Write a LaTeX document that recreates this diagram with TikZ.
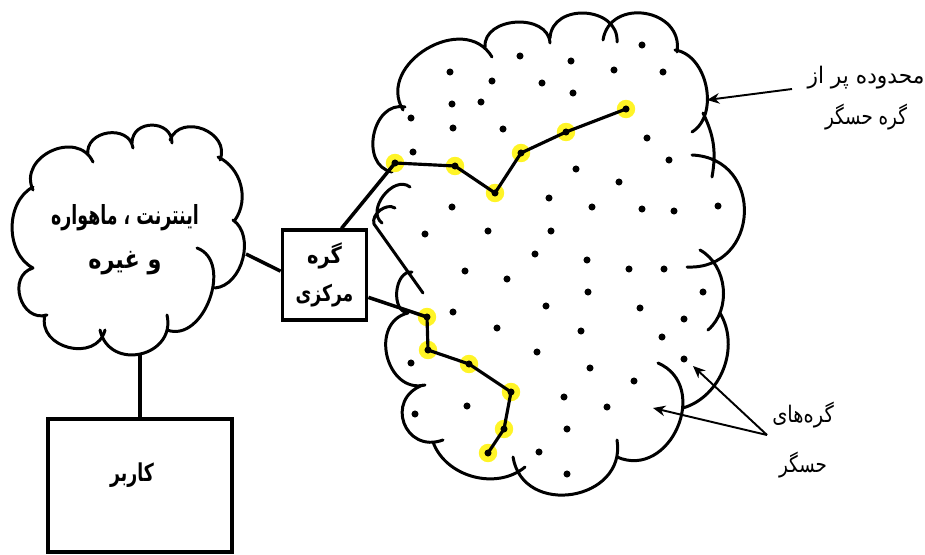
\documentclass[tikz,border=0pt]{standalone}
\usepackage{graphicx}
\usepackage{fontspec}
\newfontfamily\fa[Script=Arabic]{DejaVu Sans}
\TeXXeTstate=1
\usetikzlibrary{arrows.meta}

% one right-to-left line, a little narrowed
\newcommand{\rtlline}[2][0.75]{\scalebox{#1}[1]{\beginR #2\endR}}

\tikzset{
  rim/.style={line width=1.7pt, line cap=round},
  bump/.style={bend left=90, looseness=#1},
  box/.style={draw, rectangle, line width=2pt, inner sep=0pt},
  sensor/.style={circle, fill=yellow!85!white, inner sep=0pt, minimum size=10.5pt,
    path picture={\fill[black] (path picture bounding box.center) circle (2pt);}},
  hop/.style={line width=1.8pt},
  pointer/.style={line width=1.1pt, -{Stealth[length=7pt,width=6pt]}},
  fabold/.style={font=\fa\bfseries\fontsize{14}{25}\selectfont, align=center},
  faplain/.style={font=\fa\fontsize{13}{23}\selectfont, align=center},
}

\begin{document}
\begin{tikzpicture}[x=0.02cm, y=-0.02cm]
  \useasboundingbox (0,0) rectangle (925,554);

  % left cloud
  \draw[rim]
    (33,268) to[bend left=62] (33,187)
    (33,190) to[bump=1.42] (93,162)
    (88,155) to[bump=1.4] (133,148)
    (132,143) to[bump=1.53] (172,143)
    (170,140) to[bump=1.42] (220,160)
    (218,157) to[bend left=50] (235,220)
    (233,220) to[bend left=70] (215,288)
    (197,248) to[bump=1.15] (167,330)
    (167,315) to[bump=1.6] (100,330)
    (105,330) to[bump=1.42] (45,315)
    (47,315) to[bump=1.44] (33,268);

  % sensor field
  \draw[rim]
    (392,172) to[bump=1.3] (405,107)
    (403,110) to[bump=1.33] (492,57)
    (485,47) to[bump=1.2] (550,43)
    (550,38) to[bump=1.37] (617,42)
    (603,40) to[bump=1.5] (677,52)
    (675,50) to[bend left=70] (692,132)
    (703,113) to[bend left=18] (712,177)
    (692,155) to[bump=1.67] (687,267)
    (700,250) to[bend left=55] (708,330)
    (720,313) to[bend left=52] (683,408)
    (658,363) to[bump=1.45] (617,457)
    (617,440) to[bump=1.5] (513,457)
    (525,467) to[bend left=55] (433,442)
    (443,440) to[bump=1.8] (423,385)
    (425,385) to[bump=1.4] (408,313)
    (408,313) to[bump=1.1] (412,272)
    (423,293) -- (374,224) to[bend left=70] (395,208)
    (382,223) to[bump=1.17] (410,187);

  % idle sensors
  \fill
    (642,45) circle (2pt) (520,56) circle (2pt) (571,61) circle (2pt)
    (450,72) circle (2pt) (614,70) circle (2pt) (663,72) circle (2pt)
    (492,81) circle (2pt) (542,83) circle (2pt) (573,93) circle (2pt)
    (452,104) circle (2pt) (481,102) circle (2pt) (411,118) circle (2pt)
    (453,128) circle (2pt) (503,129) circle (2pt) (647,138) circle (2pt)
    (413,152) circle (2pt) (669,160) circle (2pt) (576,169) circle (2pt)
    (619,182) circle (2pt) (549,198) circle (2pt) (452,207) circle (2pt)
    (592,207) circle (2pt) (642,209) circle (2pt) (674,211) circle (2pt)
    (718,206) circle (2pt) (425,234) circle (2pt) (488,231) circle (2pt)
    (551,231) circle (2pt) (535,254) circle (2pt) (587,260) circle (2pt)
    (465,271) circle (2pt) (507,279) circle (2pt) (629,269) circle (2pt)
    (664,269) circle (2pt) (703,292) circle (2pt) (588,292) circle (2pt)
    (546,306) circle (2pt) (640,308) circle (2pt) (453,312) circle (2pt)
    (684,319) circle (2pt) (497,328) circle (2pt) (581,331) circle (2pt)
    (662,337) circle (2pt) (537,352) circle (2pt) (411,363) circle (2pt)
    (590,368) circle (2pt) (684,359) circle (2pt) (634,381) circle (2pt)
    (564,397) circle (2pt) (467,406) circle (2pt) (607,407) circle (2pt)
    (415,414) circle (2pt) (567,429) circle (2pt) (539,452) circle (2pt)
    (567,474) circle (2pt);

  % routes
  \draw
    (395,163) node[sensor] (a1){}
    (455,166) node[sensor] (a2){}
    (495,193) node[sensor] (a3){}
    (521,153) node[sensor] (a4){}
    (566,132) node[sensor] (a5){}
    (626,109) node[sensor] (a6){}
    (427,317) node[sensor] (b1){}
    (428,350) node[sensor] (b2){}
    (469,364) node[sensor] (b3){}
    (511,392) node[sensor] (b4){}
    (504,429) node[sensor] (b5){}
    (488,453) node[sensor] (b6){};
  \begin{scope}[hop]
    \draw (a1.center) to (a2.center);
    \draw (a2.center) to (a3.center);
    \draw (a3.center) to (a4.center);
    \draw (a4.center) to (a5.center);
    \draw (a5.center) to (a6.center);
    \draw (b1.center) to (b2.center);
    \draw (b2.center) to (b3.center);
    \draw (b3.center) to (b4.center);
    \draw (b4.center) to (b5.center);
    \draw (b5.center) to (b6.center);
  \end{scope}

  \node[fabold, font=\fa\bfseries\fontsize{15}{25}\selectfont] (inet) at (125,240)
    {\rtlline[0.66]{اینترنت ، ماهواره}\\\rtlline[0.85]{و  غیره}};
  \node[box, fabold, minimum width=48pt, minimum height=51pt,
    font=\fa\bfseries\fontsize{13}{21.5}\selectfont] (hub) at (324.5,275)
    {\rtlline[0.85]{گره}\\\rtlline{مرکزی}};
  \node[box, line width=2.4pt, minimum width=105pt, minimum height=76pt]
    (user) at (140,485.5) {};
  \node[fabold] (userlbl) at (132,475) {\rtlline[0.7]{کاربر}};
  \node[faplain] (zone) at (866,98)
    {\rtlline[0.95]{محدوده پر از}\\\rtlline[0.8]{گره حسگر}};
  \node[faplain, font=\fa\fontsize{13}{28}\selectfont] (sens) at (803,440)
    {\rtlline[0.85]{گره‌های}\\\rtlline[0.8]{حسگر}};

  \coordinate (inetE) at (246,254);
  \coordinate (inetS) at (140,354);
  \coordinate (zoneT) at (792,89);
  \coordinate (rimP) at (707,100);
  \coordinate (fork) at (767,435);
  \coordinate (nodeP) at (693,366);
  \coordinate (rimQ) at (653,408);

  \begin{scope}[line width=2pt]
    \draw (inetE) to (hub.175);
    \draw (inetS) to (user.north);
    \draw (hub.70) to (a1.center);
    \draw (hub.-27) to (b1.center);
  \end{scope}
  \begin{scope}[pointer]
    \draw (zoneT) to (rimP);
    \draw (fork) to (nodeP);
    \draw (fork) to (rimQ);
  \end{scope}
\end{tikzpicture}
\end{document}
